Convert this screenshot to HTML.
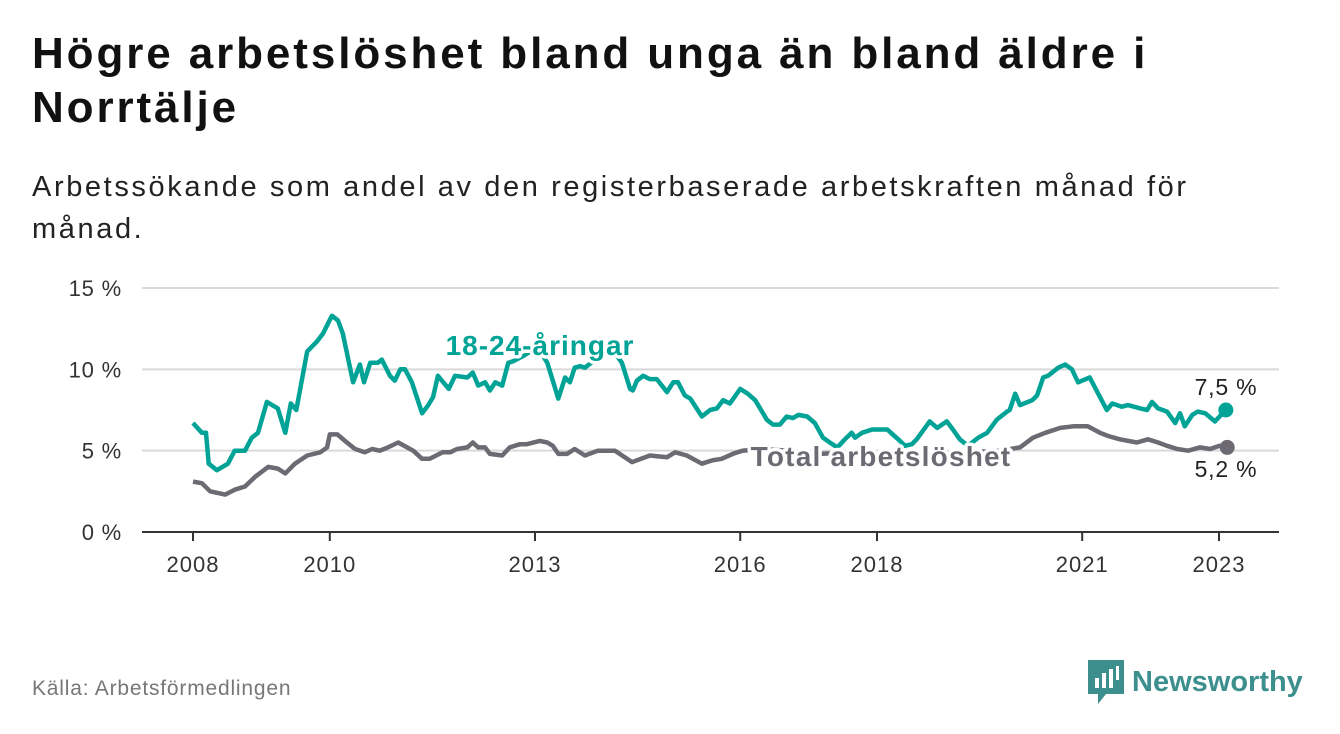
<!DOCTYPE html>
<html><head><meta charset="utf-8">
<style>
body{margin:0;width:1340px;height:734px;background:#fff;font-family:"Liberation Sans",sans-serif;overflow:hidden;position:relative}
h1{position:absolute;left:32px;top:27px;margin:0;font-size:44px;line-height:54px;font-weight:bold;color:#111;letter-spacing:2.9px;white-space:nowrap}
.sub{position:absolute;left:32px;top:166px;font-size:29px;line-height:42px;color:#222;letter-spacing:2.6px;white-space:nowrap}
.src{position:absolute;left:32px;top:677px;font-size:21px;color:#777;letter-spacing:0.8px}
.logo{position:absolute;left:1088px;top:660px;display:flex;align-items:center}
.logo span{font-size:29px;font-weight:bold;color:#3c8f8d;margin-left:8px}
svg{position:absolute;left:0;top:0}
</style></head><body>
<h1>Högre arbetslöshet bland unga än bland äldre i<br>Norrtälje</h1>
<div class="sub">Arbetssökande som andel av den registerbaserade arbetskraften månad för<br>månad.</div>
<div class="src">Källa: Arbetsförmedlingen</div>
<div class="logo">
<svg style="position:static" width="36" height="44" viewBox="0 0 36 44"><path d="M0 0H36V34H18L10 44V34H0Z" fill="#3c8f8d"/><rect x="7" y="18" width="4" height="10" fill="#fff"/><rect x="14" y="13" width="4" height="15" fill="#fff"/><rect x="21" y="9" width="4" height="19" fill="#fff"/><rect x="28" y="6" width="3" height="14" fill="#fff"/></svg>
<span>Newsworthy</span></div>
<svg id="chart" width="1340" height="734"></svg>
<script>
const yTicks=[0,5,10,15];
const yTickLabels=["0 %","5 %","10 %","15 %"];
const xTicks=[2008,2010,2013,2016,2018,2021,2023];
const youthDates=[2008.00,2008.13,2008.19,2008.23,2008.35,2008.51,2008.61,2008.76,2008.86,2008.95,2009.08,2009.24,2009.35,2009.43,2009.51,2009.67,2009.81,2009.90,2010.03,2010.12,2010.19,2010.34,2010.44,2010.50,2010.59,2010.70,2010.76,2010.88,2010.95,2011.03,2011.10,2011.20,2011.35,2011.44,2011.51,2011.58,2011.74,2011.83,2012.01,2012.09,2012.17,2012.27,2012.34,2012.42,2012.52,2012.61,2012.68,2012.82,2012.97,2013.09,2013.18,2013.34,2013.44,2013.51,2013.58,2013.66,2013.73,2013.88,2014.05,2014.17,2014.27,2014.39,2014.43,2014.49,2014.58,2014.68,2014.78,2014.93,2015.02,2015.09,2015.19,2015.27,2015.44,2015.56,2015.66,2015.75,2015.85,2016.00,2016.11,2016.22,2016.39,2016.48,2016.58,2016.68,2016.77,2016.85,2016.98,2017.09,2017.21,2017.31,2017.42,2017.53,2017.63,2017.68,2017.78,2017.93,2018.15,2018.23,2018.31,2018.41,2018.51,2018.58,2018.77,2018.88,2019.02,2019.11,2019.21,2019.33,2019.48,2019.61,2019.75,2019.90,2019.94,2020.02,2020.09,2020.27,2020.34,2020.43,2020.50,2020.65,2020.75,2020.85,2020.94,2021.11,2021.36,2021.44,2021.58,2021.67,2021.85,2021.95,2022.02,2022.11,2022.24,2022.36,2022.43,2022.50,2022.61,2022.69,2022.80,2022.94,2023.10];
const youthValues=[6.7,6.1,6.1,4.2,3.8,4.2,5.0,5.0,5.8,6.1,8.0,7.6,6.1,7.9,7.5,11.1,11.7,12.2,13.3,13.0,12.2,9.2,10.3,9.2,10.4,10.4,10.6,9.6,9.3,10.0,10.0,9.2,7.3,7.8,8.3,9.6,8.8,9.6,9.5,9.8,9.0,9.2,8.7,9.2,9.0,10.4,10.5,10.8,11.2,11.0,10.4,8.2,9.5,9.2,10.1,10.2,10.1,10.6,10.9,11.0,10.4,8.8,8.7,9.3,9.6,9.4,9.4,8.6,9.2,9.2,8.4,8.2,7.1,7.5,7.6,8.1,7.9,8.8,8.5,8.1,6.9,6.6,6.6,7.1,7.0,7.2,7.1,6.7,5.8,5.5,5.2,5.7,6.1,5.8,6.1,6.3,6.3,6.0,5.7,5.3,5.4,5.7,6.8,6.4,6.8,6.3,5.7,5.3,5.8,6.1,6.9,7.4,7.5,8.5,7.8,8.1,8.4,9.5,9.6,10.1,10.3,10.0,9.2,9.5,7.5,7.9,7.7,7.8,7.6,7.5,8.0,7.6,7.4,6.7,7.3,6.5,7.2,7.4,7.3,6.8,7.5];
const totalDates=[2008.00,2008.13,2008.25,2008.47,2008.61,2008.76,2008.91,2009.10,2009.24,2009.35,2009.49,2009.67,2009.86,2009.96,2010.00,2010.11,2010.25,2010.37,2010.51,2010.62,2010.73,2010.85,2011.00,2011.13,2011.22,2011.35,2011.46,2011.65,2011.76,2011.86,2012.01,2012.09,2012.17,2012.27,2012.34,2012.52,2012.63,2012.78,2012.88,2013.07,2013.18,2013.26,2013.34,2013.47,2013.58,2013.73,2013.92,2014.17,2014.42,2014.68,2014.93,2015.05,2015.22,2015.44,2015.59,2015.73,2015.89,2016.03,2016.29,2016.73,2017.17,2017.61,2018.04,2018.48,2018.92,2019.36,2019.80,2020.09,2020.28,2020.46,2020.68,2020.87,2021.08,2021.26,2021.38,2021.55,2021.80,2021.96,2022.11,2022.24,2022.39,2022.55,2022.72,2022.87,2023.01,2023.12];
const totalValues=[3.1,3.0,2.5,2.3,2.6,2.8,3.4,4.0,3.9,3.6,4.2,4.7,4.9,5.2,6.0,6.0,5.5,5.1,4.9,5.1,5.0,5.2,5.5,5.2,5.0,4.5,4.5,4.9,4.9,5.1,5.2,5.5,5.2,5.2,4.8,4.7,5.2,5.4,5.4,5.6,5.5,5.3,4.8,4.8,5.1,4.7,5.0,5.0,4.3,4.7,4.6,4.9,4.7,4.2,4.4,4.5,4.8,5.0,5.1,5.0,4.8,4.9,4.8,4.7,4.8,4.9,5.0,5.2,5.8,6.1,6.4,6.5,6.5,6.1,5.9,5.7,5.5,5.7,5.5,5.3,5.1,5.0,5.2,5.1,5.3,5.2];

const X0=193,X1=1219,Y0=532,Y1=288;
const xs=d=>X0+(d-2008)*(X1-X0)/15;
const ys=v=>Y0-v*(Y0-Y1)/15;
const svg=document.getElementById('chart');
const NS='http://www.w3.org/2000/svg';
function mk(tag,attrs,parent){const e=document.createElementNS(NS,tag);for(const k in attrs)e.setAttribute(k,attrs[k]);(parent||svg).appendChild(e);return e;}
yTicks.forEach((t,i)=>{
 const g=mk('line',{x1:142,x2:1279,y1:ys(t),y2:ys(t),stroke:t===0?'#333':'#d9d9d9','stroke-width':2});
 
 
 const l=mk('text',{x:122,y:ys(t)+8,'text-anchor':'end','font-size':22,fill:'#333','letter-spacing':0.8});
 l.textContent=yTickLabels[i];
 
 
});
xTicks.forEach(t=>{
 const tk=mk('line',{x1:xs(t),x2:xs(t),y1:532,y2:541,stroke:'#333','stroke-width':2});
 
 
 const l=mk('text',{x:xs(t),y:572,'text-anchor':'middle','font-size':22,fill:'#333','letter-spacing':1});
 l.textContent=t;
 
 
});
function path(d,v){return d.map((x,i)=>(i?'L':'M')+xs(x).toFixed(1)+' '+ys(v[i]).toFixed(1)).join(' ');}
const tl=mk('path',{d:path(totalDates,totalValues),fill:'none',stroke:'#6d6a73','stroke-width':4.5,'stroke-linejoin':'round'});


const yl=mk('path',{d:path(youthDates,youthValues),fill:'none',stroke:'#00a396','stroke-width':4.5,'stroke-linejoin':'round'});


const n=youthDates.length-1,m=totalDates.length-1;
const d1=mk('circle',{cx:xs(youthDates[n]),cy:ys(youthValues[n]),r:7.5,fill:'#00a396'});


const d2=mk('circle',{cx:xs(totalDates[m]),cy:ys(totalValues[m]),r:7.5,fill:'#6d6a73'});


function lab(txt,x,y,size,col,bold,anchor,name,ls){
 const t=mk('text',{x:x,y:y,'font-size':size,fill:col,'font-weight':bold?'bold':'normal','text-anchor':anchor,stroke:'#fff','stroke-width':bold?7:6,'paint-order':'stroke','stroke-linejoin':'round','letter-spacing':ls});
 t.textContent=txt;
 
 
}
lab('18-24-åringar',540,355,28,'#00a396',true,'middle','youth-series-label',1);
lab('Total arbetslöshet',881,466,28,'#6d6a73',true,'middle','total-series-label',1.2);
lab('7,5 %',1226,395,23,'#222',false,'middle','youth-end-value',0.8);
lab('5,2 %',1226,477,23,'#222',false,'middle','total-end-value',0.8);
</script>
</body></html>
